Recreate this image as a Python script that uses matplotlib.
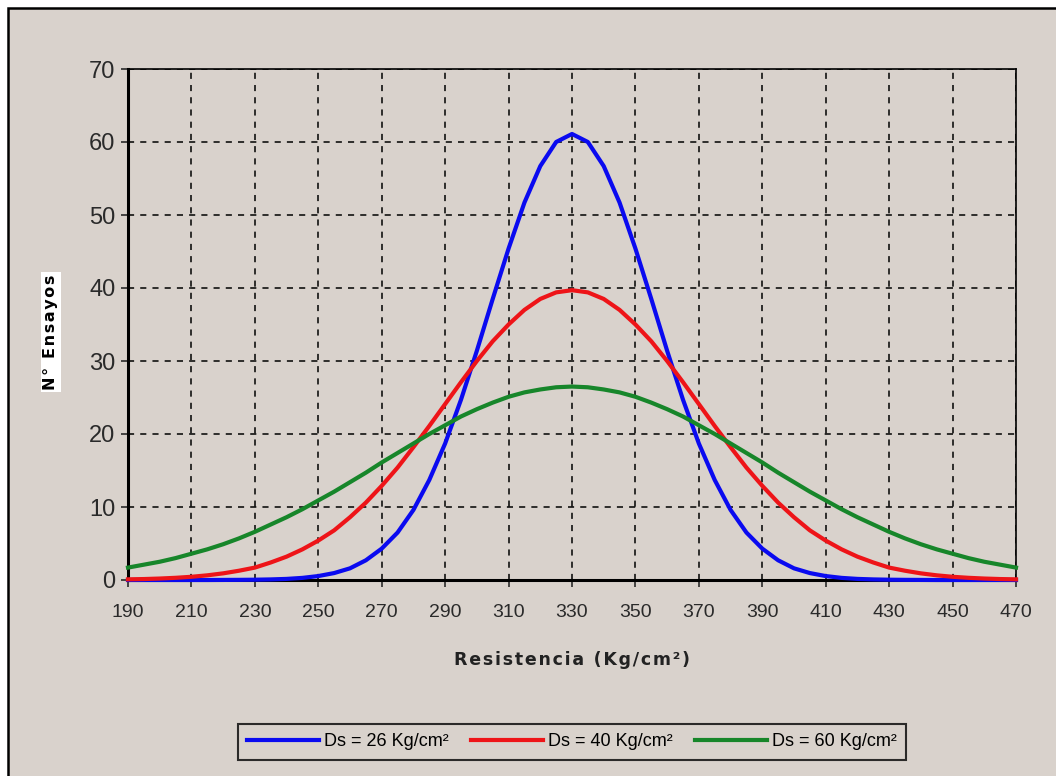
import matplotlib.pyplot as plt
from matplotlib.patches import Rectangle

# Resistencia (Kg/cm2), every 5 units
resistencia = [190, 195, 200, 205, 210, 215, 220, 225, 230, 235, 240, 245, 250, 255, 260,
               265, 270, 275, 280, 285, 290, 295, 300, 305, 310, 315, 320, 325, 330,
               335, 340, 345, 350, 355, 360, 365, 370, 375, 380, 385, 390, 395, 400,
               405, 410, 415, 420, 425, 430, 435, 440, 445, 450, 455, 460, 465, 470]

# N de ensayos
ds26 = [0.0, 0.0, 0.0, 0.0, 0.0, 0.0, 0.01, 0.02, 0.04, 0.08, 0.15, 0.29, 0.54, 0.95, 1.6,
        2.7, 4.3, 6.5, 9.6, 13.7, 18.7, 24.7, 31.4, 38.5, 45.4, 51.7, 56.7, 60.0, 61.1,
        60.0, 56.7, 51.7, 45.4, 38.5, 31.4, 24.7, 18.7, 13.7, 9.6, 6.5, 4.3, 2.7, 1.6,
        0.95, 0.54, 0.29, 0.15, 0.08, 0.04, 0.02, 0.01, 0.0, 0.0, 0.0, 0.0, 0.0, 0.0]
ds40 = [0.09, 0.13, 0.20, 0.30, 0.44, 0.64, 0.91, 1.27, 1.7, 2.4, 3.2, 4.2, 5.4, 6.8, 8.6,
        10.6, 12.9, 15.4, 18.2, 21.1, 24.1, 27.1, 30.0, 32.7, 35.0, 37.0, 38.5, 39.4, 39.7,
        39.4, 38.5, 37.0, 35.0, 32.7, 30.0, 27.1, 24.1, 21.1, 18.2, 15.4, 12.9, 10.6, 8.6,
        6.8, 5.4, 4.2, 3.2, 2.4, 1.7, 1.27, 0.91, 0.64, 0.44, 0.30, 0.20, 0.13, 0.09]
ds60 = [1.7, 2.1, 2.5, 3.0, 3.6, 4.2, 4.9, 5.7, 6.6, 7.6, 8.6, 9.7, 10.9, 12.1, 13.4,
        14.7, 16.1, 17.4, 18.7, 20.0, 21.2, 22.4, 23.4, 24.3, 25.1, 25.7, 26.1, 26.4, 26.5,
        26.4, 26.1, 25.7, 25.1, 24.3, 23.4, 22.4, 21.2, 20.0, 18.7, 17.4, 16.1, 14.7, 13.4,
        12.1, 10.9, 9.7, 8.6, 7.6, 6.6, 5.7, 4.9, 4.2, 3.6, 3.0, 2.5, 2.1, 1.7]

series_labels = ["Ds = 26 Kg/cm²", "Ds = 40 Kg/cm²", "Ds = 60 Kg/cm²"]
series_colors = ["#0a0af0", "#ee1418", "#17862a"]

x_ticks = [190, 210, 230, 250, 270, 290, 310, 330, 350, 370, 390, 410, 430, 450, 470]
y_ticks = [0, 10, 20, 30, 40, 50, 60, 70]

BG = "#d9d2cc"
NARROW = ["Liberation Sans Narrow", "Liberation Sans", "DejaVu Sans"]
HS = "\u200a"  # hair space for letter spacing

fig = plt.figure(figsize=(10.56, 7.76), dpi=100, facecolor="white")
fig.patches.append(Rectangle((8 / 1056, -0.05), 1.1, 1.05 - 8 / 776, transform=fig.transFigure,
                             facecolor=BG, edgecolor="black", linewidth=1.8, zorder=-10))

ax = fig.add_axes([128 / 1056, 1 - 580 / 776, (1016 - 128) / 1056, (580 - 69) / 776])
ax.set_facecolor(BG)

for values, label, color in zip([ds26, ds40, ds60], series_labels, series_colors):
    ax.plot(resistencia, values, color=color, linewidth=3.0, label=label,
            solid_joinstyle="round", clip_on=False, zorder=3)

ax.set_xlim(190, 470)
ax.set_ylim(0, 70)
ax.set_xticks(x_ticks)
ax.set_yticks(y_ticks)
ax.grid(True, color="black", linestyle=(0, (4, 4)), linewidth=1.1)

for label in ax.get_xticklabels():
    label.set_family(NARROW)
    label.set_fontsize(14)
for label in ax.get_yticklabels():
    label.set_family(NARROW)
    label.set_fontsize(17)
ax.tick_params(axis="both", direction="out", length=5, width=1.2, colors="#2a2a2a")
ax.tick_params(axis="x", pad=12)
ax.tick_params(axis="y", pad=4)

ax.spines["left"].set_linewidth(2.2)
ax.spines["bottom"].set_linewidth(2.2)
ax.spines["top"].set_linewidth(1.2)
ax.spines["right"].set_linewidth(1.2)

xlabel = HS.join("Resistencia (Kg/cm²)")
ax.set_xlabel(xlabel, fontsize=12.5, fontweight="bold", color="#222222", labelpad=22,
              family=["DejaVu Sans"])
ylabel = HS.join("N° Ensayos")
fig.text(51 / 1056, 1 - 332 / 776, ylabel, rotation=90, fontsize=11.5, fontweight="bold",
         ha="center", va="center", family=["DejaVu Sans"],
         bbox=dict(facecolor="white", edgecolor="none", pad=2))

leg = fig.legend(loc="center", bbox_to_anchor=(572 / 1056, 1 - 742 / 776), ncol=3,
                 frameon=True, fancybox=False, handlelength=4.0, handletextpad=0.3,
                 columnspacing=1.2, borderpad=0.5, prop={"family": NARROW, "size": 13})
leg.get_frame().set_facecolor(BG)
leg.get_frame().set_edgecolor("black")
leg.get_frame().set_linewidth(1.5)

fig.savefig("out.png", dpi=100, facecolor=fig.get_facecolor())
